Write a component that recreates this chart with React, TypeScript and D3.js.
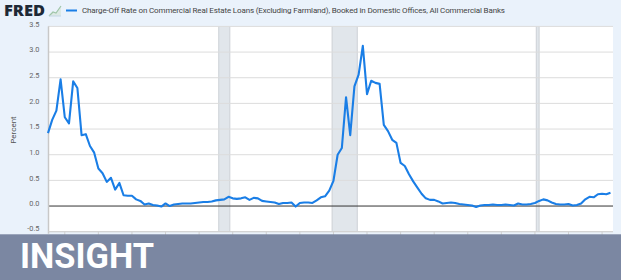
import React from "react";
import * as d3 from "d3";

const startYear = 1991;
const values: number[] = [
  1.42, 1.68, 1.86, 2.47,
  1.73, 1.61, 2.43, 2.30,
  1.38, 1.40, 1.17, 1.04,
  0.73, 0.64, 0.47, 0.55,
  0.32, 0.45, 0.21, 0.20,
  0.20, 0.13, 0.10, 0.03,
  0.05, 0.02, 0.01, -0.01,
  0.05, 0.00, 0.03, 0.04,
  0.05, 0.05, 0.05, 0.06,
  0.07, 0.08, 0.08, 0.09,
  0.11, 0.12, 0.13, 0.18,
  0.15, 0.14, 0.15, 0.17,
  0.12, 0.16, 0.15, 0.10,
  0.09, 0.08, 0.07, 0.04,
  0.06, 0.06, 0.07, -0.01,
  0.06, 0.07, 0.07, 0.06,
  0.11, 0.17, 0.19, 0.30,
  0.49, 1.00, 1.13, 2.12,
  1.38, 2.33, 2.56, 3.12,
  2.18, 2.44, 2.40, 2.38,
  1.58, 1.46, 1.29, 1.23,
  0.84, 0.78, 0.62, 0.48,
  0.36, 0.24, 0.15, 0.12,
  0.12, 0.09, 0.05, 0.06,
  0.07, 0.06, 0.04, 0.03,
  0.02, 0.01, -0.02, 0.01,
  0.02, 0.02, 0.03, 0.02,
  0.02, 0.03, 0.02, 0.01,
  0.05, 0.03, 0.03, 0.04,
  0.06, 0.10, 0.13, 0.11,
  0.07, 0.04, 0.03, 0.03,
  0.04, 0.01, 0.02, 0.05,
  0.13, 0.18, 0.17, 0.23,
  0.24, 0.23, 0.26,
];
const recessions: [number, number][] = [
  [2001.17, 2001.83],
  [2007.92, 2009.42],
  [2020.08, 2020.25],
];
const yTicks = [-0.5, 0.0, 0.5, 1.0, 1.5, 2.0, 2.5, 3.0, 3.5];
const xTickYears = d3.range(1992, 2025, 2);
const title =
  "Charge-Off Rate on Commercial Real Estate Loans (Excluding Farmland), Booked in Domestic Offices, All Commercial Banks";

export default function App() {
  const W = 621, H = 280;
  const left = 48, right = 613, top = 26.4, bottom = 231.7;
  const x = d3.scaleLinear().domain([1991, 2024.65]).range([left, right]);
  const y = d3.scaleLinear().domain([-0.5, 3.5]).range([bottom, top]);
  const data = values.map((v, i) => ({ t: startYear + i / 4, v }));
  const line = d3
    .line<{ t: number; v: number }>()
    .x((d) => x(d.t))
    .y((d) => y(d.v));
  const font = "Roboto, 'Open Sans', sans-serif";
  return (
    <svg
      width={W}
      height={H}
      style={{ position: "absolute", left: 0, top: 0, display: "block" }}
    >
      <rect x={0} y={0} width={W} height={H} fill="#eaf2fb" />
      {/* header */}
      <text x={4} y={16.2} fontFamily="'Open Sans', Roboto, sans-serif" fontWeight={800} fontSize={14.5} fill="#1e2936" textLength={41} lengthAdjust="spacingAndGlyphs" transform="translate(0,-1.2) scale(1,1.07)">
        FRED
      </text>
      <g>
        <polygon points="49,16 53,12 56,13 61,6 61,16" fill="#d7e6dc" opacity={0.7} />
        <polyline points="49,16 53,12 56,13 61,6" fill="none" stroke="#9fc5a8" strokeWidth={1.2} />
        <polyline points="49,16 61,16" fill="none" stroke="#c4d6e6" strokeWidth={1} />
      </g>
      <line x1={66} x2={77} y1={10.5} y2={10.5} stroke="#1a7ee6" strokeWidth={2} />
      <text x={82} y={13.3} fontFamily={font} fontSize={8} fill="#444" textLength={423} lengthAdjust="spacing">
        {title}
      </text>
      {/* plot */}
      <rect x={left} y={top} width={right - left} height={bottom - top} fill="#fff" />
      {recessions.map(([a, b], i) => (
        <g key={i}>
          <rect x={x(a)} y={top} width={x(b) - x(a)} height={bottom - top} fill="#e1e6eb" />
          <line x1={x(a)} x2={x(a)} y1={top} y2={bottom} stroke="#cdd1d6" strokeWidth={1} />
          <line x1={x(b)} x2={x(b)} y1={top} y2={bottom} stroke="#cdd1d6" strokeWidth={1} />
        </g>
      ))}
      {yTicks.map((t) => (
        <g key={t}>
          {t !== 0 && (
            <line x1={left} x2={right} y1={y(t)} y2={y(t)} stroke="#dcdcdc" strokeWidth={1} />
          )}
          <text x={39.5} y={y(t) + (t === -0.5 ? -0.6 : 0.2)} textAnchor="end" fontFamily={font} fontSize={7.4} fill="#666">
            {t.toFixed(1)}
          </text>
        </g>
      ))}
      <line x1={left} x2={right} y1={y(0)} y2={y(0)} stroke="#333" strokeWidth={1} />
      <line x1={left + 0.5} x2={left + 0.5} y1={top} y2={bottom + 2} stroke="#c8c8c8" strokeWidth={1.5} />
      <line x1={left} x2={right} y1={bottom} y2={bottom} stroke="#d0d0d0" strokeWidth={1} />
      {xTickYears.map((yr) => (
        <line key={yr} x1={x(yr)} x2={x(yr)} y1={bottom} y2={bottom + 4} stroke="#d0d0d0" strokeWidth={1} />
      ))}
      <path d={line(data) ?? ""} fill="none" stroke="#1a7ee6" strokeWidth={2.1} strokeLinejoin="round" />
      <text transform={`translate(15.5,130) rotate(-90)`} textAnchor="middle" fontFamily={font} fontSize={8} fill="#555">
        Percent
      </text>
      {/* banner */}
      <rect x={0} y={234.3} width={W} height={H - 234.3} fill="#7b87a2" />
      <text x={20} y={268.3} fontFamily="Roboto, sans-serif" fontWeight={700} fontSize={34.5} fill="#fff" textLength={134} lengthAdjust="spacingAndGlyphs">
        INSIGHT
      </text>
    </svg>
  );
}
